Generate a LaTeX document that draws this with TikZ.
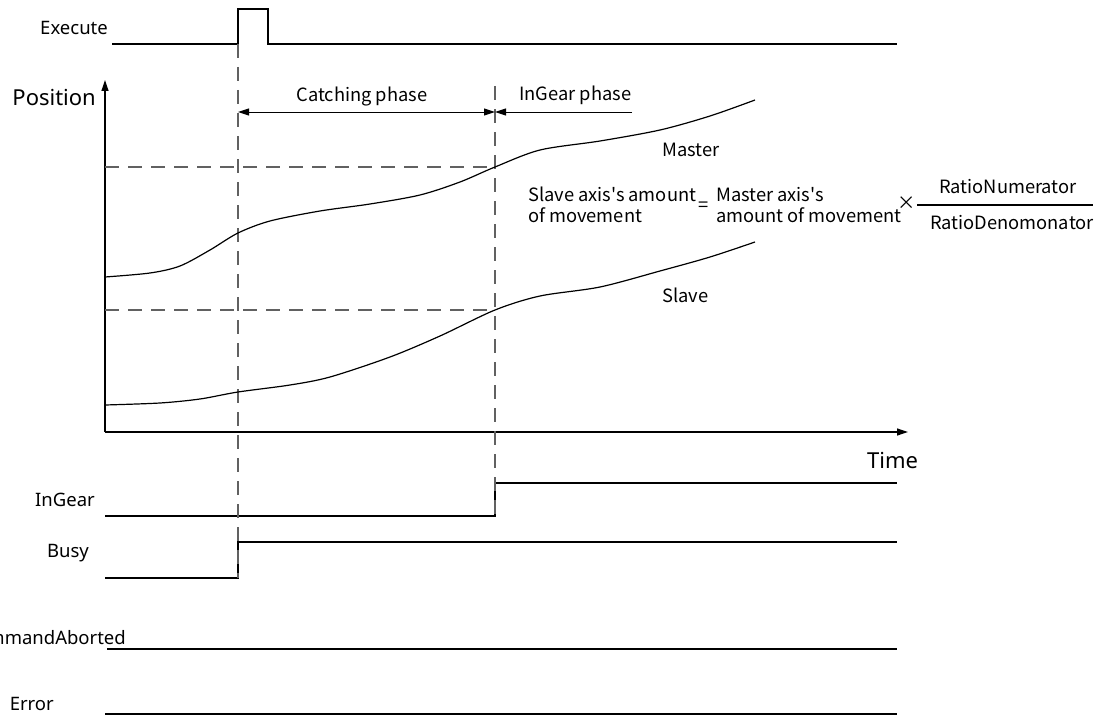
\documentclass[tikz,border=0pt]{standalone}
\usepackage{fontspec}
\setmainfont{Noto Sans}
\newfontfamily\cjkf{Noto Sans CJK SC}
\usetikzlibrary{arrows.meta}
\begin{document}
\begin{tikzpicture}[x=1pt,y=-1pt,
  sig/.style={line width=1.2pt,black},
  curve/.style={line width=1.2pt,black},
  guide/.style={line width=1.2pt,black!62,dash pattern=on 14pt off 9pt},
  lbl/.style={font=\fontsize{18.5}{20}\selectfont,inner sep=0pt},
  txt/.style={font=\cjkf\fontsize{18.3}{20}\selectfont,inner sep=0pt},
  tip/.style={-{Triangle[length=11pt,width=7pt]}}]
\useasboundingbox (0,0) rectangle (1109,717);
% signals
\node[lbl,anchor=base east] (lexec) at (108,35) {Execute};
\draw[sig] (112,44) -- (238,44) -- (238,9) -- (268,9) -- (268,44) -- (897,44);
\node[lbl,anchor=base east] (lingear) at (95,506) {InGear};
\draw[sig] (105,516) -- (495,516) -- (495,483) -- (897,483);
\node[lbl,anchor=base east] (lbusy) at (89,557) {Busy};
\draw[sig] (105,578) -- (238,578) -- (238,542) -- (897,542);
\node[lbl,anchor=base east] (labort) at (126,644) {CommandAborted};
\draw[sig] (107,649) -- (897,649);
\node[lbl,anchor=base east] (lerr) at (54,710) {Error};
\draw[sig] (105,714) -- (897,714);
% axes
\coordinate (o) at (105,432);
\coordinate (ytop) at (105,80);
\coordinate (xend) at (908,432);
\draw[sig,tip] (o) -- (ytop);
\draw[sig,tip] (o) -- (xend);
\node[lbl,font=\fontsize{22}{24}\selectfont,anchor=base east] (lpos) at (96,106) {Position};
\node[lbl,font=\fontsize{22}{24}\selectfont,anchor=base west] (ltime) at (867,468) {Time};
% guides
\draw[guide] (238,44) -- (238,578);
\draw[guide] (495,86) -- (495,516);
\draw[guide] (105,167) -- (495,167);
\draw[guide] (105,310) -- (495,310);
% phases
\coordinate (c1) at (238,112);
\coordinate (c2) at (495,112);
\coordinate (c3) at (632,112);
\draw[line width=1pt,{Triangle[length=11pt,width=7pt]}-{Triangle[length=11pt,width=7pt]}] (c1) -- (c2);
\draw[line width=1pt,tip] (c3) -- (c2);
\node[txt,anchor=base] (catch) at (362,101) {Catching phase};
\node[txt,anchor=base west] (ingp) at (519,100) {InGear phase};
% curves
\draw[curve] plot[smooth,tension=0.5] coordinates {(105,277) (150,273) (180,266) (210,250) (238,233) (270,221) (320,211) (370,204) (420,195) (460,182) (495,167) (540,150) (600,141) (660,130) (710,116) (755,100)};
\draw[curve] plot[smooth,tension=0.5] coordinates {(105,405) (160,403) (200,399) (238,392) (290,385) (330,377) (390,357) (440,336) (495,310) (540,296) (600,287) (660,271) (710,257) (755,242)};
\node[txt,anchor=base west] (lmaster) at (662,156) {Master};
\node[txt,anchor=base west] (lslave) at (662,302) {Slave};
% formula
\node[txt,anchor=base west] (f1) at (528,201) {Slave axis's amount};
\node[txt,anchor=base west] (f2) at (528,222) {of movement};
\node[txt,anchor=center] (feq) at (704,207) {=};
\node[txt,anchor=base west] (f3) at (716,201) {Master axis's};
\node[txt,anchor=base west] (f4) at (716,222) {amount of movement};
\node[txt,anchor=center] (ftimes) at (907,203) {×};
\draw[line width=1.2pt] (917,205) -- (1093,205);
\node[txt,anchor=base] (fnum) at (1008,193) {RatioNumerator};
\node[txt,anchor=base] (fden) at (1012,229) {RatioDenomonator};
\end{tikzpicture}
\end{document}
